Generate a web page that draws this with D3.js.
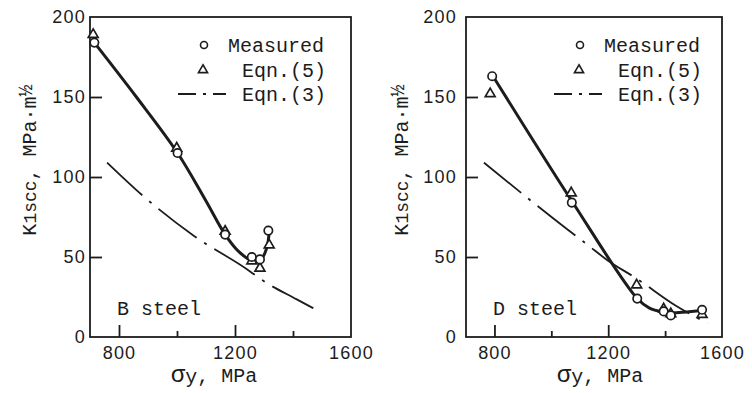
<!DOCTYPE html>
<html><head><meta charset="utf-8">
<script src="https://cdn.jsdelivr.net/npm/d3@7"></script>
<style>
html,body{margin:0;padding:0;background:#fff;}
svg{display:block;}
</style></head>
<body>
<svg id="c" width="752" height="393"></svg>
<script>
// ---------- DATA ----------
const panelNames = ["B steel", "D steel"];
const legendLabels = ["Measured", "Eqn.(5)", "Eqn.(3)"];
const xMajorTicks = [800, 1200, 1600];
const xMinorTicks = [1000, 1400];
const yTicks = [0, 50, 100, 150, 200];

// B steel
const bMeasuredX = [715, 1002, 1166, 1258, 1286, 1315];
const bMeasuredY = [184, 115, 64, 50, 48.5, 66.5];
const bEqn5X = [711, 999, 1166, 1258, 1286, 1318];
const bEqn5Y = [189, 118, 66, 47.5, 43, 57.5];
const bFitX = [715, 860, 1002, 1100, 1166, 1215, 1262, 1290, 1310, 1318];
const bFitY = [184, 150, 115, 85, 64, 53, 47.5, 48.5, 56, 66];
const bEqn3X = [759, 884, 1060, 1252, 1290, 1413, 1470];
const bEqn3Y = [109, 88, 63, 41, 36, 23.5, 18];

// D steel
const dMeasuredX = [792, 1072, 1302, 1395, 1420, 1530];
const dMeasuredY = [163, 84, 24, 16, 13.5, 17];
const dEqn5X = [785, 1070, 1300, 1395, 1420, 1530];
const dEqn5Y = [152, 90, 32.5, 17.5, 14.5, 14];
const dFitX = [795, 1072, 1302, 1345, 1395, 1420, 1530];
const dFitY = [163, 85, 24, 18, 15.5, 15, 16.5];
const dEqn3X = [763, 1058, 1128, 1197, 1300, 1438, 1550];
const dEqn3Y = [109, 67, 57.5, 48, 36.5, 19.5, 8.5];

// ---------- LAYOUT ----------
const svg = d3.select("#c");
const ink = "#1c1c1c";
const mono = "'Liberation Mono', 'DejaVu Sans Mono', monospace";
const sans = "'Liberation Sans', Arial, sans-serif";

const panels = [
  {name: panelNames[0], x0: 90, x1: 351, labelGap: 4, ylabX: 36, xlabC: 214,
   mx: bMeasuredX, my: bMeasuredY, tx: bEqn5X, ty: bEqn5Y,
   fx: bFitX, fy: bFitY, ex: bEqn3X, ey: bEqn3Y},
  {name: panelNames[1], x0: 466, x1: 722, labelGap: 9, ylabX: 408, xlabC: 600,
   mx: dMeasuredX, my: dMeasuredY, tx: dEqn5X, ty: dEqn5Y,
   fx: dFitX, fy: dFitY, ex: dEqn3X, ey: dEqn3Y}
];
const yTop = 17, yBot = 337;

panels.forEach(p => {
  const g = svg.append("g");
  const x = d3.scaleLinear().domain([700, 1600]).range([p.x0, p.x1]);
  const y = d3.scaleLinear().domain([0, 200]).range([yBot, yTop]);

  // frame
  g.append("rect").attr("x", p.x0).attr("y", yTop)
    .attr("width", p.x1 - p.x0).attr("height", yBot - yTop)
    .attr("fill", "none").attr("stroke", ink).attr("stroke-width", 1.8);

  // x axis major
  const xa = g.append("g").attr("transform", `translate(0,${yBot})`)
    .call(d3.axisBottom(x).tickValues(xMajorTicks).tickSizeInner(-12).tickSizeOuter(0).tickPadding(8).tickFormat(d3.format("d")));
  xa.select(".domain").remove();
  xa.selectAll(".tick line").attr("stroke", ink).attr("stroke-width", 1.8)
    .filter(d => d === 1600).remove();
  xa.selectAll(".tick text").attr("font-family", sans).attr("font-size", 18)
    .attr("letter-spacing", 1.2).attr("fill", ink).attr("dy", "0.75em");
  // x axis minor
  const xm = g.append("g").attr("transform", `translate(0,${yBot})`)
    .call(d3.axisBottom(x).tickValues(xMinorTicks).tickSizeInner(-6).tickSizeOuter(0).tickFormat(""));
  xm.select(".domain").remove();
  xm.selectAll(".tick line").attr("stroke", ink).attr("stroke-width", 1.8);

  // y axis
  const ya = g.append("g").attr("transform", `translate(${p.x0},0)`)
    .call(d3.axisLeft(y).tickValues(yTicks).tickSizeInner(-12).tickSizeOuter(0).tickPadding(p.labelGap).tickFormat(d3.format("d")));
  ya.select(".domain").remove();
  ya.selectAll(".tick line").attr("stroke", ink).attr("stroke-width", 1.8)
    .filter(d => d === 0 || d === 200).remove();
  ya.selectAll(".tick text").attr("font-family", sans).attr("font-size", 18)
    .attr("letter-spacing", 1.2).attr("fill", ink);

  // Eqn.(3) dash-dot line
  const line = d3.line().x(d => x(d[0])).y(d => y(d[1])).curve(d3.curveMonotoneX);
  g.append("path").datum(p.ex.map((v, i) => [v, p.ey[i]]))
    .attr("d", line).attr("fill", "none").attr("stroke", ink)
    .attr("stroke-width", 1.8).attr("stroke-dasharray", "48,9,3,9");

  // measured fit (thick)
  const fitLine = d3.line().x(d => x(d[0])).y(d => y(d[1])).curve(d3.curveCatmullRom.alpha(0.5));
  g.append("path").datum(p.fx.map((v, i) => [v, p.fy[i]]))
    .attr("d", fitLine).attr("fill", "none").attr("stroke", ink)
    .attr("stroke-width", 3);

  // Eqn.(5) triangles
  const tri = d3.symbol().type(d3.symbolTriangle).size(42);
  g.selectAll(".tri").data(p.tx.map((v, i) => [v, p.ty[i]])).join("path")
    .attr("transform", d => `translate(${x(d[0])},${y(d[1])})`)
    .attr("d", tri).attr("fill", "#fff").attr("stroke", ink).attr("stroke-width", 1.7);

  // measured circles
  g.selectAll(".circ").data(p.mx.map((v, i) => [v, p.my[i]])).join("circle")
    .attr("cx", d => x(d[0])).attr("cy", d => y(d[1])).attr("r", 4.2)
    .attr("fill", "#fff").attr("stroke", ink).attr("stroke-width", 1.7);

  // legend
  const lx = p.x0;
  g.append("circle").attr("cx", lx + 114).attr("cy", 45).attr("r", 3.5)
    .attr("fill", "#fff").attr("stroke", ink).attr("stroke-width", 1.6);
  g.append("path").attr("transform", `translate(${lx + 113},${70})`)
    .attr("d", d3.symbol().type(d3.symbolTriangle).size(36)())
    .attr("fill", "#fff").attr("stroke", ink).attr("stroke-width", 1.6);
  g.append("line").attr("x1", lx + 88).attr("x2", lx + 136).attr("y1", 94).attr("y2", 94)
    .attr("stroke", ink).attr("stroke-width", 1.8).attr("stroke-dasharray", "18,7,3,7,18");
  const legTxt = [[legendLabels[0], lx + 138, 52], [legendLabels[1], lx + 152, 77], [legendLabels[2], lx + 152, 101]];
  legTxt.forEach(t => {
    g.append("text").attr("x", t[1]).attr("y", t[2]).text(t[0])
      .attr("font-family", mono).attr("font-size", 20).attr("fill", ink);
  });

  // steel label
  g.append("text").attr("x", p.x0 + 27).attr("y", 315).text(p.name)
    .attr("font-family", mono).attr("font-size", 20).attr("fill", ink);

  // x-axis title
  const xt = g.append("text").attr("x", p.xlabC).attr("y", 382).attr("text-anchor", "middle")
    .attr("font-family", mono).attr("font-size", 20).attr("fill", ink);
  xt.append("tspan").text("σ").attr("font-size", 24);
  xt.append("tspan").text("y").attr("dy", 1);
  xt.append("tspan").text(", MPa").attr("dy", -1);

  // y-axis title
  const yt = g.append("text").attr("transform", `translate(${p.ylabX},160) rotate(-90)`)
    .attr("text-anchor", "middle").attr("font-family", mono).attr("font-size", 20).attr("fill", ink);
  yt.append("tspan").text("K");
  yt.append("tspan").text("1scc").attr("font-size", 18);
  yt.append("tspan").text(", MPa·m");
  yt.append("tspan").text("½").attr("dy", -4);
});
</script>
</body></html>
